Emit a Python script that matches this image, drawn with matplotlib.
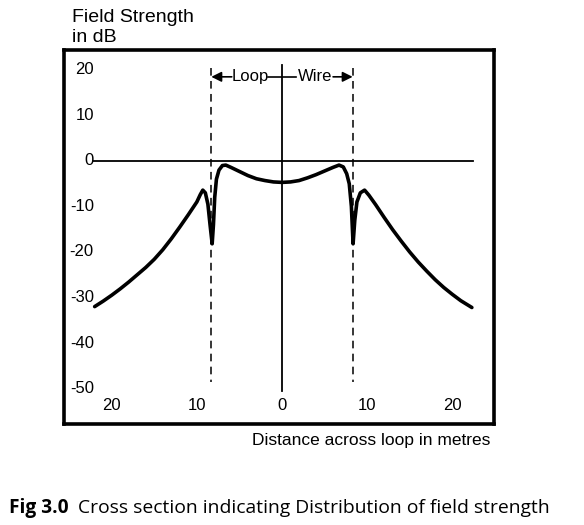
import numpy as np
from matplotlib import pyplot as plt

# field strength readings, left half then right half (metres, dB)
x_left = [-22.0, -21.0, -20.0, -19.0, -18.0, -17.0, -16.0, -15.0, -14.0, -13.0,
          -12.0, -11.0, -10.0, -9.6, -9.3, -9.0, -8.7, -8.45, -8.2, -8.05, -7.9,
          -7.7, -7.4, -7.0, -6.6, -6.0, -5.0, -4.0, -3.0, -2.0, -1.0, 0.0]
y_left = [-32.0, -30.8, -29.5, -28.1, -26.6, -25.0, -23.4, -21.6, -19.5, -17.1,
          -14.5, -11.8, -9.0, -7.4, -6.4, -7.0, -9.5, -14.0, -18.2, -14.0, -8.0,
          -4.0, -2.0, -1.0, -0.9, -1.4, -2.3, -3.2, -3.9, -4.3, -4.6, -4.7]
x_right = [1.0, 2.0, 3.0, 4.0, 5.0, 6.0, 6.7, 7.2, 7.6, 7.9, 8.15, 8.35, 8.55,
           8.8, 9.2, 9.7, 10.2, 11.0, 12.0, 13.0, 14.0, 15.0, 16.0, 17.0, 18.0,
           19.0, 20.0, 21.0, 22.3]
y_right = [-4.6, -4.3, -3.7, -3.0, -2.2, -1.4, -0.9, -1.3, -2.8, -5.0, -10.0,
           -18.2, -13.0, -9.0, -7.0, -6.4, -7.5, -9.6, -12.4, -15.1, -17.6,
           -20.0, -22.2, -24.2, -26.1, -27.8, -29.3, -30.7, -32.2]

y_ticks = [20, 10, 0, -10, -20, -30, -40, -50]
x_ticks = [-20, -10, 0, 10, 20]
x_tick_labels = ['20', '10', '0', '10', '20']
loop_edge = 8.3

x = np.array(x_left + x_right)
y = np.array(y_left + y_right)

fig = plt.figure(figsize=(5.84, 5.25), dpi=100)
ax = fig.add_axes([0.1096, 0.1924, 0.7363, 0.7124])
ax.set_xlim(-25.6, 24.9)
ax.set_ylim(-57.8, 24.4)
ax.set_xticks([])
ax.set_yticks([])
for s in ax.spines.values():
    s.set_linewidth(2.6)

font = 'Liberation Sans'

# axes lines
ax.plot([-22.2, 22.4], [0, 0], color='k', lw=1.3)
ax.plot([0, 0], [21.1, -50.5], color='k', lw=1.3)
for xe in (-loop_edge, loop_edge):
    ax.plot([xe, xe], [20.4, -48.6], color='k', lw=1.1, ls=(0, (5, 3.5)))

# the curve
ax.plot(x, y, color='k', lw=2.6, solid_joinstyle='round', solid_capstyle='round')

# tick labels drawn inside the box
for v in y_ticks:
    ax.text(-22.1, v, str(v), ha='right', va='center',
            fontsize=12, family=font)
for v, lab in zip(x_ticks, x_tick_labels):
    ax.text(v, -53.8, lab, ha='center', va='center', fontsize=12, family=font)

# loop / wire annotation
ya = 18.5
ax.annotate('', xy=(-loop_edge, ya), xytext=(-5.9, ya),
            arrowprops=dict(arrowstyle='-|>,head_length=0.6,head_width=0.3',
                            color='k', lw=1.2, shrinkA=0, shrinkB=0))
ax.annotate('', xy=(loop_edge, ya), xytext=(6.0, ya),
            arrowprops=dict(arrowstyle='-|>,head_length=0.6,head_width=0.3',
                            color='k', lw=1.2, shrinkA=0, shrinkB=0))
ax.plot([-1.6, 1.6], [ya, ya], color='k', lw=1.2)
ax.text(-3.75, ya, 'Loop', ha='center', va='center', fontsize=12, family=font)
ax.text(3.9, ya, 'Wire', ha='center', va='center', fontsize=12, family=font)

# outside texts
fig.text(72 / 584, 1 - 17 / 525, 'Field Strength', ha='left', va='center',
         fontsize=14, family=font)
fig.text(72 / 584, 1 - 38 / 525, 'in dB', ha='left', va='center',
         fontsize=14, family=font)
fig.text(490 / 584, 1 - 440 / 525, 'Distance across loop in metres',
         ha='right', va='center', fontsize=12.5, family=font)
fig.text(9 / 584, 1 - 508 / 525, 'Fig 3.0', ha='left', va='center',
         fontsize=13.8, family='Open Sans', fontweight='bold')
fig.text(78 / 584, 1 - 508 / 525,
         'Cross section indicating Distribution of field strength',
         ha='left', va='center', fontsize=13.9, family='Open Sans')

fig.savefig('out.png', dpi=100)
